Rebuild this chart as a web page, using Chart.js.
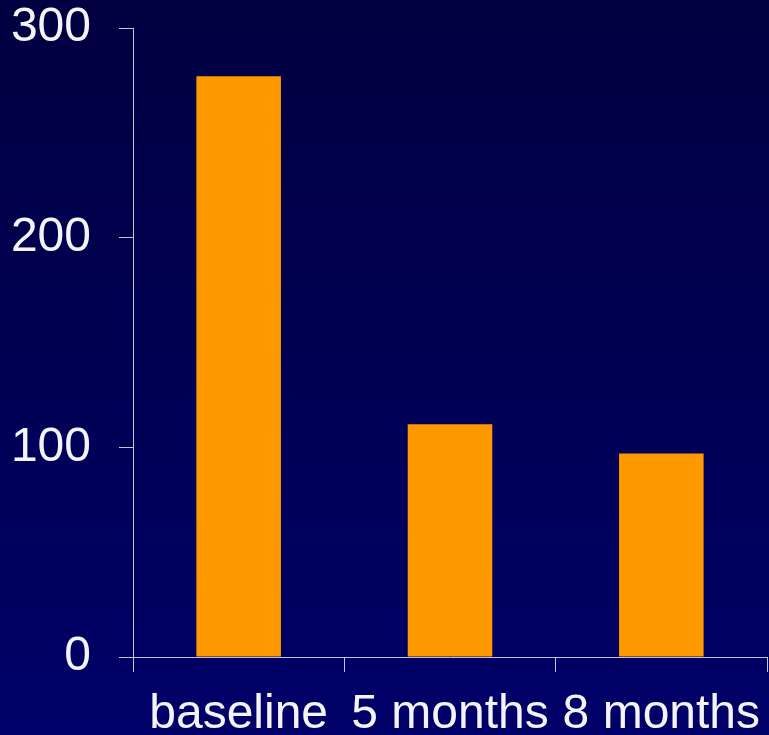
<!DOCTYPE html>
<html>
<head>
<meta charset="utf-8">
<script src="https://cdn.jsdelivr.net/npm/chart.js@4/dist/chart.umd.min.js"></script>
<style>
  html, body { margin: 0; padding: 0; background: #000050; }
  #wrap { width: 769px; height: 735px; position: relative; }
</style>
</head>
<body>
<div id="wrap"><canvas id="c" width="769" height="735"></canvas></div>
<script>
const categories = ['baseline', '5 months', '8 months'];
const values = [277, 111, 97];
const yTicks = [0, 100, 200, 300];

// Vertical navy gradient behind the whole canvas
const backdrop = {
  id: 'backdrop',
  beforeDraw(chart) {
    const ctx = chart.ctx;
    const g = ctx.createLinearGradient(0, 0, 0, chart.height);
    g.addColorStop(0, '#000040');
    g.addColorStop(1, '#000068');
    ctx.save();
    ctx.fillStyle = g;
    ctx.fillRect(0, 0, chart.width, chart.height);
    ctx.restore();
  }
};

const font = { family: '"Liberation Sans", Arial, sans-serif', size: 48 };
const axisColor = '#c4c4d4';

new Chart(document.getElementById('c'), {
  type: 'bar',
  data: {
    labels: categories,
    datasets: [{
      data: values,
      backgroundColor: '#ff9900',
      borderWidth: 0,
      barPercentage: 0.4,
      categoryPercentage: 1
    }]
  },
  options: {
    responsive: false,
    animation: false,
    devicePixelRatio: 1,
    layout: { padding: { top: 28, right: 2, left: 0, bottom: 0 } },
    plugins: { legend: { display: false }, tooltip: { enabled: false } },
    scales: {
      x: {
        offset: true,
        grid: {
          offset: true,
          drawOnChartArea: false,
          drawTicks: true,
          tickLength: 15,
          color: axisColor,
          lineWidth: 1
        },
        border: { display: true, color: axisColor, width: 1 },
        ticks: { color: '#f4f4f8', font: font, padding: 14, maxRotation: 0, autoSkip: false },
        afterFit(scale) {
          scale.height = 78;
          scale.paddingLeft = 0;
          scale.paddingRight = 0;
        }
      },
      y: {
        min: 0,
        max: 300,
        afterBuildTicks(scale) { scale.ticks = yTicks.map(v => ({ value: v })); },
        grid: {
          drawOnChartArea: false,
          drawTicks: true,
          tickLength: 14,
          color: axisColor,
          lineWidth: 1
        },
        border: { display: true, color: axisColor, width: 1 },
        ticks: { color: '#f4f4f8', font: font, padding: 28 },
        afterFit(scale) {
          scale.width = 133;
          scale.paddingTop = 0;
          scale.paddingBottom = 0;
        }
      }
    }
  },
  plugins: [backdrop]
});
</script>
</body>
</html>
